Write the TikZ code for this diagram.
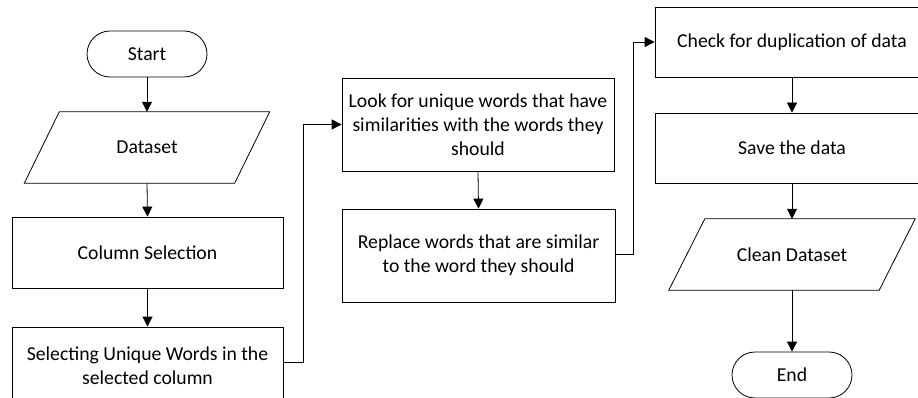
\documentclass[tikz,border=0pt]{standalone}
\usepackage{fontspec}
\setmainfont{Carlito}
\usetikzlibrary{arrows.meta,calc}
\begin{document}
\begin{tikzpicture}[x=1pt,y=-1pt,
  every node/.style={font=\fontsize{19.7}{24}\selectfont, align=center, inner sep=0pt},
  procbox/.style={draw, line width=0.8pt, minimum width=#1, minimum height=71pt},
  procbox/.default=271pt,
  termbox/.style={draw, line width=0.8pt, rounded corners=23pt, minimum width=120pt, minimum height=46pt},
  iobox/.style={minimum width=210pt, minimum height=71pt},
  flow/.style={line width=0.8pt, -{Triangle[length=10pt,width=10pt]}},
  link/.style={line width=0.8pt}
]
\useasboundingbox (0,0) rectangle (918,398);
\clip (0,0) rectangle (918,398);
\fill[white] (0,0) rectangle (918,398);

% left column
\node[termbox] (start) at (147,54) {Start};
\node[iobox] (dataset) at (147,147.5) {Dataset};
\node[procbox] (colsel) at (147.5,252.5) {Column Selection};
\node[procbox, minimum height=78pt] (select) at (147.5,366) {Selecting Unique Words in the\\selected column};

% middle column
\node[procbox=272pt, minimum height=93pt] (look) at (478,124.5) {Look for unique words that have\\similarities with the words they\\should};
\node[procbox=273pt, minimum height=93pt] (replace) at (478.5,255.5) {Replace words that are similar\\to the word they should};

% right column
\node[procbox=274pt, minimum height=70pt] (check) at (792,42) {Check for duplication of data};
\node[procbox=274pt, minimum height=70pt] (save) at (792,148) {Save the data};
\node[iobox] (clean) at (792,254.5) {Clean Dataset};
\node[termbox] (end) at (792,375) {End};

% parallelogram outlines
\foreach \n/\s in {dataset/17.5, clean/18}{
  \draw[line width=0.8pt] ($(\n.south west)+(-\s,0)$) -- ($(\n.south east)+(-\s,0)$)
    -- ($(\n.north east)+(\s,0)$) -- ($(\n.north west)+(\s,0)$) -- cycle;
}

% connectors
\draw[flow] (start.south) -- (dataset.north);
\draw[flow] (dataset.south) -- (colsel.north);
\draw[flow] (colsel.south) -- (select.north);
\draw[flow] ([yshift=4pt]select.east) -- ++(20,0) |- (look.west);
\draw[flow] (look.south) -- (replace.north);
\draw[flow] ([yshift=1.5pt]replace.east) -- ++(18,0) |- (check.west);
\draw[flow] (check.south) -- (save.north);
\draw[flow] (save.south) -- (clean.north);
\draw[flow] (clean.south) -- (end.north);
\end{tikzpicture}
\end{document}
